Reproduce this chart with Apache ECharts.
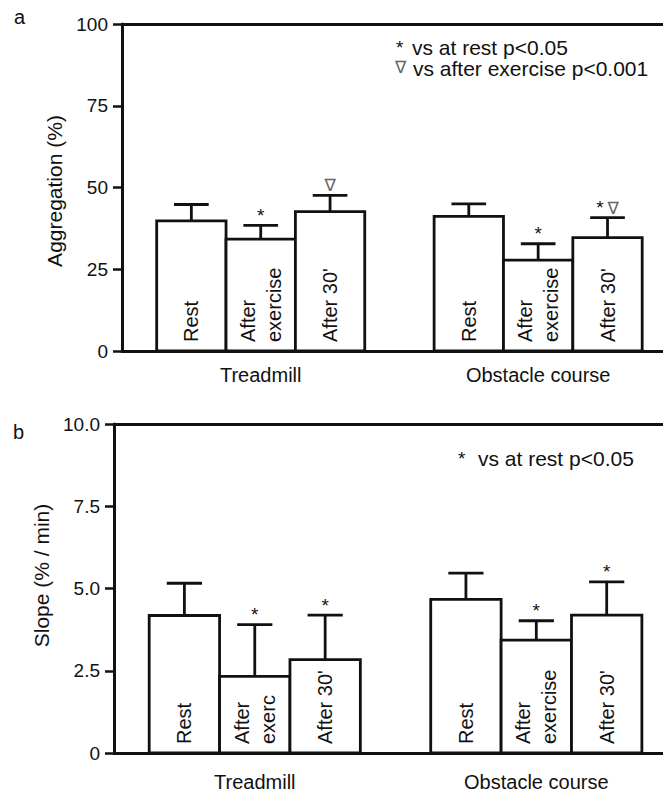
<!DOCTYPE html>
<html>
<head>
<meta charset="utf-8">
<script src="https://cdn.jsdelivr.net/npm/echarts@6/dist/echarts.min.js"></script>
<style>
html,body{margin:0;padding:0;background:#fff;}
#c{width:663px;height:796px;}
</style>
</head>
<body>
<div id="c"></div>
<script>
// ---- data ----
const groups = ['Treadmill', 'Obstacle course'];
const barLabelsA = ['Rest', 'After\nexercise', "After 30'", 'Rest', 'After\nexercise', "After 30'"];
const barLabelsB = ['Rest', 'After\nexerc', "After 30'", 'Rest', 'After\nexercise', "After 30'"];

const aggMean = [39.8, 34.2, 42.6, 41.2, 27.8, 34.7];
const aggSem  = [5.0, 4.2, 5.0, 3.8, 5.0, 6.1];
const aggStar = [0, 1, 0, 0, 1, 1];
const aggTri  = [0, 0, 1, 0, 0, 1];
const aggTickLabels = ['0', '25', '50', '75', '100'];

const slopeMean = [4.18, 2.33, 2.84, 4.67, 3.43, 4.19];
const slopeSem  = [0.98, 1.57, 1.35, 0.80, 0.59, 1.01];
const slopeStar = [0, 1, 1, 0, 1, 1];
const slopeTri  = [0, 0, 0, 0, 0, 0];
const slopeTickLabels = ['0', '2.5', '5.0', '7.5', '10.0'];

// ---- build ----
const FONT = '"Liberation Sans", Arial, Helvetica, sans-serif';
const INK = '#111';
const nCond = 3;
function slotOf(i) { // group g, condition c -> slot on x value axis
  const g = Math.floor(i / nCond), c = i % nCond;
  return g * (nCond + 1) + c + 1;
}
function buildData(means, sems) {
  return means.map((m, i) => [slotOf(i), m, sems[i]]);
}
function groupCenter(g) { return g * (nCond + 1) + (nCond + 1) / 2; }

function makeRender(labels, stars, tris) {
  return function (params, api) {
    const i = params.dataIndex;
    const x = api.value(0), m = api.value(1), s = api.value(2);
    const tl = api.coord([x - 0.5, m]);
    const br = api.coord([x + 0.5, 0]);
    const top = api.coord([x, m + s]);
    const hw = api.size([0.25, 0])[0];
    const lw = 2.8;
    const children = [
      {type: 'rect', shape: {x: tl[0], y: tl[1], width: br[0] - tl[0], height: br[1] - tl[1]},
        style: {fill: '#fff', stroke: INK, lineWidth: lw}},
      {type: 'line', shape: {x1: top[0], y1: tl[1], x2: top[0], y2: top[1]},
        style: {stroke: INK, lineWidth: lw}},
      {type: 'line', shape: {x1: top[0] - hw, y1: top[1], x2: top[0] + hw, y2: top[1]},
        style: {stroke: INK, lineWidth: lw}},
      {type: 'text', x: top[0], y: br[1] - 9, rotation: Math.PI / 2,
        style: {text: labels[i], align: 'left', verticalAlign: 'middle',
          fontSize: 20, lineHeight: 26, fill: INK, fontFamily: FONT}}
    ];
    let mk = '';
    if (stars[i]) mk += '{s|*}';
    if (stars[i] && tris[i]) mk += '{s|\u2009}';
    if (tris[i]) mk += '{t|\u2207}';
    if (mk) {
      children.push({type: 'text', x: top[0], y: top[1] - 10,
        style: {text: mk, align: 'center', verticalAlign: 'middle', fontFamily: FONT,
          rich: {s: {fontSize: 19, fill: INK, fontFamily: FONT},
                 t: {fontSize: 17, fill: '#666', fontFamily: '"DejaVu Sans", sans-serif'}}}});
    }
    return {type: 'group', children: children};
  };
}

function xBottom(gi, margin) {
  return {
    type: 'value', gridIndex: gi, min: 0, max: 7.8, interval: 1, position: 'bottom',
    axisLine: {onZero: false, lineStyle: {color: INK, width: 3}},
    axisTick: {show: false}, splitLine: {show: false},
    axisLabel: {
      margin: margin, fontSize: 20, color: INK, fontFamily: FONT, showMaxLabel: false,
      formatter: function (v) {
        for (let g = 0; g < groups.length; g++) if (Math.abs(v - groupCenter(g)) < 1e-6) return groups[g];
        return '';
      }
    }
  };
}
function xTop(gi) {
  return {
    type: 'value', gridIndex: gi, min: 0, max: 7.8, position: 'top',
    axisLine: {onZero: false, lineStyle: {color: INK, width: 3}},
    axisTick: {show: false}, splitLine: {show: false}, axisLabel: {show: false}
  };
}
function yAx(gi, max, interval, tickLabels, name, nameGap, pad) {
  return {
    type: 'value', gridIndex: gi, min: 0, max: max, interval: interval,
    name: name, nameLocation: 'middle', nameGap: nameGap, nameRotate: 90,
    nameTextStyle: {fontSize: 21, color: INK, fontFamily: FONT, padding: pad},
    axisLine: {show: true, onZero: false, lineStyle: {color: INK, width: 3}},
    axisTick: {show: true, inside: false, length: 9, lineStyle: {color: INK, width: 2.5}},
    splitLine: {show: false},
    axisLabel: {margin: 14, fontSize: 19, color: INK, fontFamily: FONT,
      formatter: function (v) { return tickLabels[Math.round(v / interval)]; }}
  };
}

const option = {
  animation: false,
  backgroundColor: '#fff',
  grid: [
    {left: 122, top: 24, width: 541, height: 327},
    {left: 114, top: 424, width: 549, height: 329}
  ],
  xAxis: [xBottom(0, 14), xTop(0), xBottom(1, 19), xTop(1)],
  yAxis: [
    yAx(0, 100, 25, aggTickLabels, 'Aggregation (%)', 57, [0, 7, 0, 0]),
    yAx(1, 10, 2.5, slopeTickLabels, 'Slope (% / min)', 51, [0, 0, 0, 26])
  ],
  series: [
    {type: 'custom', xAxisIndex: 0, yAxisIndex: 0, clip: false,
      encode: {x: 0, y: 1}, data: buildData(aggMean, aggSem),
      renderItem: makeRender(barLabelsA, aggStar, aggTri)},
    {type: 'custom', xAxisIndex: 2, yAxisIndex: 1, clip: false,
      encode: {x: 0, y: 1}, data: buildData(slopeMean, slopeSem),
      renderItem: makeRender(barLabelsB, slopeStar, slopeTri)}
  ],
  graphic: [
    {type: 'text', x: 14, y: 17, style: {text: 'a', fontSize: 20, fill: INK, fontFamily: FONT, verticalAlign: 'middle'}},
    {type: 'text', x: 13, y: 432, style: {text: 'b', fontSize: 20, fill: INK, fontFamily: FONT, verticalAlign: 'middle'}},
    {type: 'text', x: 396, y: 47, style: {text: '*', fontSize: 19, fill: INK, fontFamily: FONT, verticalAlign: 'middle'}},
    {type: 'text', x: 412, y: 47, style: {text: 'vs at rest p<0.05', fontSize: 21, fill: INK, fontFamily: FONT, verticalAlign: 'middle'}},
    {type: 'text', x: 395, y: 67, style: {text: '\u2207', fontSize: 17, fill: '#666', fontFamily: '"DejaVu Sans", sans-serif', verticalAlign: 'middle'}},
    {type: 'text', x: 413, y: 68, style: {text: 'vs after exercise p<0.001', fontSize: 21, fill: INK, fontFamily: FONT, verticalAlign: 'middle'}},
    {type: 'text', x: 458, y: 458, style: {text: '*', fontSize: 19, fill: INK, fontFamily: FONT, verticalAlign: 'middle'}},
    {type: 'text', x: 478, y: 458, style: {text: 'vs at rest p<0.05', fontSize: 21, fill: INK, fontFamily: FONT, verticalAlign: 'middle'}}
  ]
};

const chart = echarts.init(document.getElementById('c'), null, {renderer: 'svg'});
chart.setOption(option);
</script>
</body>
</html>
